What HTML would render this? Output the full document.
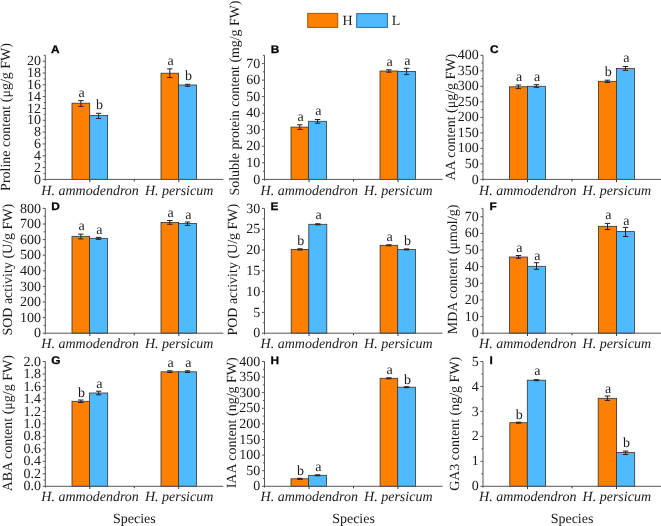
<!DOCTYPE html>
<html><head><meta charset="utf-8"><title>Figure</title>
<style>html,body{margin:0;padding:0;background:#fff;width:661px;height:526px;overflow:hidden}svg{display:block;will-change:transform}text{text-rendering:geometricPrecision}.s{font-family:"Liberation Serif",serif;font-size:14px;fill:#1a1a1a}.i{font-family:"Liberation Serif",serif;font-style:italic;font-size:14px;fill:#1a1a1a}.p{font-family:"Liberation Sans",sans-serif;font-weight:bold;font-size:11px;fill:#000;stroke:#000;stroke-width:0.25px}</style></head><body>
<svg width="661" height="526" viewBox="0 0 661 526">
<rect x="307.7" y="13.4" width="30" height="14" fill="#FF8000" stroke="#a85800" stroke-width="1"/>
<text class="s" transform="translate(342.6 25.3) scale(1 1)">H</text>
<rect x="356.7" y="13.6" width="30.7" height="13.8" fill="#50BAFF" stroke="#2a6c9c" stroke-width="1"/>
<text class="s" transform="translate(391.8 25.3) scale(1 1)">L</text>
<g><rect x="72" y="103.2" width="17.7" height="76.2" fill="#FF8000" stroke="#333" stroke-width="0.8"/><rect x="89.7" y="115.5" width="17.9" height="63.9" fill="#50BAFF" stroke="#333" stroke-width="0.8"/><rect x="161" y="73.2" width="17.6" height="106.2" fill="#FF8000" stroke="#333" stroke-width="0.8"/><rect x="178.6" y="85" width="18" height="94.4" fill="#50BAFF" stroke="#333" stroke-width="0.8"/><path d="M80.85 100.6V106.4M78.15 100.6H83.55M78.15 106.4H83.55" stroke="#222" stroke-width="1" fill="none"/><text class="s" transform="translate(81.65 96.8) scale(1 1)" text-anchor="middle">a</text><path d="M98.65 113.3V118.4M95.95 113.3H101.35M95.95 118.4H101.35" stroke="#222" stroke-width="1" fill="none"/><text class="s" transform="translate(99.45 108.8) scale(1 1)" text-anchor="middle">b</text><path d="M169.8 68.9V77.6M167.1 68.9H172.5M167.1 77.6H172.5" stroke="#222" stroke-width="1" fill="none"/><text class="s" transform="translate(170.6 64.7) scale(1 1)" text-anchor="middle">a</text><path d="M187.6 84.3V86.3M184.9 84.3H190.3M184.9 86.3H190.3" stroke="#222" stroke-width="1" fill="none"/><text class="s" transform="translate(188.4 80.3) scale(1 1)" text-anchor="middle">b</text><path d="M45.3 55.3V180.7M45.3 179.4H223.3" stroke="#555" stroke-width="1" fill="none"/><text class="s" transform="translate(41 183.5) scale(1 1)" text-anchor="end">0</text><text class="s" transform="translate(41 171.68) scale(1 1)" text-anchor="end">2</text><text class="s" transform="translate(41 159.86) scale(1 1)" text-anchor="end">4</text><text class="s" transform="translate(41 148.04) scale(1 1)" text-anchor="end">6</text><text class="s" transform="translate(41 136.22) scale(1 1)" text-anchor="end">8</text><text class="s" transform="translate(41 124.4) scale(1 1)" text-anchor="end">10</text><text class="s" transform="translate(41 112.59) scale(1 1)" text-anchor="end">12</text><text class="s" transform="translate(41 100.77) scale(1 1)" text-anchor="end">14</text><text class="s" transform="translate(41 88.95) scale(1 1)" text-anchor="end">16</text><text class="s" transform="translate(41 77.13) scale(1 1)" text-anchor="end">18</text><text class="s" transform="translate(41 65.31) scale(1 1)" text-anchor="end">20</text><path d="M42.7 179.4H45.3M43.7 173.49H45.3M42.7 167.58H45.3M43.7 161.67H45.3M42.7 155.76H45.3M43.7 149.85H45.3M42.7 143.94H45.3M43.7 138.03H45.3M42.7 132.12H45.3M43.7 126.21H45.3M42.7 120.3H45.3M43.7 114.4H45.3M42.7 108.49H45.3M43.7 102.58H45.3M42.7 96.67H45.3M43.7 90.76H45.3M42.7 84.85H45.3M43.7 78.94H45.3M42.7 73.03H45.3M43.7 67.12H45.3M42.7 61.21H45.3M43.7 55.3H45.3" stroke="#555" stroke-width="1" fill="none"/><path d="M89.8 179.4V182.2M134.3 179.4V181.4M178.8 179.4V182.2" stroke="#3a3a3a" stroke-width="1" fill="none"/><text class="i" transform="translate(90.1 194.5) scale(1 1)" text-anchor="middle">H. ammodendron</text><text class="i" transform="translate(179.1 194.5) scale(1 1)" text-anchor="middle">H. persicum</text><text class="s" transform="translate(10.3 190.9) rotate(-90) scale(1 1)">Proline content (μg/g FW)</text><text class="p" transform="translate(51 52.6) scale(1.08 1)">A</text></g>
<g><rect x="291" y="127.1" width="17.6" height="52.3" fill="#FF8000" stroke="#333" stroke-width="0.8"/><rect x="308.6" y="121.3" width="17.9" height="58.1" fill="#50BAFF" stroke="#333" stroke-width="0.8"/><rect x="380" y="71" width="17.7" height="108.4" fill="#FF8000" stroke="#333" stroke-width="0.8"/><rect x="397.7" y="71.4" width="17.8" height="108" fill="#50BAFF" stroke="#333" stroke-width="0.8"/><path d="M299.8 124.8V129.4M297.1 124.8H302.5M297.1 129.4H302.5" stroke="#222" stroke-width="1" fill="none"/><text class="s" transform="translate(300.6 120.9) scale(1 1)" text-anchor="middle">a</text><path d="M317.55 119.5V123.2M314.85 119.5H320.25M314.85 123.2H320.25" stroke="#222" stroke-width="1" fill="none"/><text class="s" transform="translate(318.35 115.2) scale(1 1)" text-anchor="middle">a</text><path d="M388.85 69.8V72.2M386.15 69.8H391.55M386.15 72.2H391.55" stroke="#222" stroke-width="1" fill="none"/><text class="s" transform="translate(389.65 66) scale(1 1)" text-anchor="middle">a</text><path d="M406.6 68.3V74.6M403.9 68.3H409.3M403.9 74.6H409.3" stroke="#222" stroke-width="1" fill="none"/><text class="s" transform="translate(407.4 64.8) scale(1 1)" text-anchor="middle">a</text><path d="M264.5 55.3V180.7M264.5 179.4H442.5" stroke="#555" stroke-width="1" fill="none"/><text class="s" transform="translate(260.2 183.5) scale(1 1)" text-anchor="end">0</text><text class="s" transform="translate(260.2 166.95) scale(1 1)" text-anchor="end">10</text><text class="s" transform="translate(260.2 150.41) scale(1 1)" text-anchor="end">20</text><text class="s" transform="translate(260.2 133.86) scale(1 1)" text-anchor="end">30</text><text class="s" transform="translate(260.2 117.31) scale(1 1)" text-anchor="end">40</text><text class="s" transform="translate(260.2 100.77) scale(1 1)" text-anchor="end">50</text><text class="s" transform="translate(260.2 84.22) scale(1 1)" text-anchor="end">60</text><text class="s" transform="translate(260.2 67.67) scale(1 1)" text-anchor="end">70</text><path d="M261.9 179.4H264.5M262.9 171.13H264.5M261.9 162.85H264.5M262.9 154.58H264.5M261.9 146.31H264.5M262.9 138.03H264.5M261.9 129.76H264.5M262.9 121.49H264.5M261.9 113.21H264.5M262.9 104.94H264.5M261.9 96.67H264.5M262.9 88.39H264.5M261.9 80.12H264.5M262.9 71.85H264.5M261.9 63.57H264.5M262.9 55.3H264.5" stroke="#555" stroke-width="1" fill="none"/><path d="M309 179.4V182.2M353.5 179.4V181.4M398 179.4V182.2" stroke="#3a3a3a" stroke-width="1" fill="none"/><text class="i" transform="translate(309.3 194.5) scale(1 1)" text-anchor="middle">H. ammodendron</text><text class="i" transform="translate(398.3 194.5) scale(1 1)" text-anchor="middle">H. persicum</text><text class="s" transform="translate(239.2 195.4) rotate(-90) scale(0.99 1)">Soluble protein content (mg/g FW)</text><text class="p" transform="translate(270.8 52.6) scale(1.08 1)">B</text></g>
<g><rect x="509.4" y="86.8" width="18" height="92.6" fill="#FF8000" stroke="#333" stroke-width="0.8"/><rect x="527.4" y="86.3" width="18" height="93.1" fill="#50BAFF" stroke="#333" stroke-width="0.8"/><rect x="598.4" y="81.3" width="18" height="98.1" fill="#FF8000" stroke="#333" stroke-width="0.8"/><rect x="616.4" y="68.5" width="18.1" height="110.9" fill="#50BAFF" stroke="#333" stroke-width="0.8"/><path d="M518.4 85V88.6M515.7 85H521.1M515.7 88.6H521.1" stroke="#222" stroke-width="1" fill="none"/><text class="s" transform="translate(519.2 80.9) scale(1 1)" text-anchor="middle">a</text><path d="M536.4 84.7V87.3M533.7 84.7H539.1M533.7 87.3H539.1" stroke="#222" stroke-width="1" fill="none"/><text class="s" transform="translate(537.2 80.9) scale(1 1)" text-anchor="middle">a</text><path d="M607.4 80.2V82.5M604.7 80.2H610.1M604.7 82.5H610.1" stroke="#222" stroke-width="1" fill="none"/><text class="s" transform="translate(608.2 76) scale(1 1)" text-anchor="middle">b</text><path d="M625.45 66.5V70.3M622.75 66.5H628.15M622.75 70.3H628.15" stroke="#222" stroke-width="1" fill="none"/><text class="s" transform="translate(626.25 62.1) scale(1 1)" text-anchor="middle">a</text><path d="M483 55.3V180.7M483 179.4H661" stroke="#555" stroke-width="1" fill="none"/><text class="s" transform="translate(478.7 183.5) scale(1 1)" text-anchor="end">0</text><text class="s" transform="translate(478.7 167.99) scale(1 1)" text-anchor="end">50</text><text class="s" transform="translate(478.7 152.47) scale(1 1)" text-anchor="end">100</text><text class="s" transform="translate(478.7 136.96) scale(1 1)" text-anchor="end">150</text><text class="s" transform="translate(478.7 121.45) scale(1 1)" text-anchor="end">200</text><text class="s" transform="translate(478.7 105.94) scale(1 1)" text-anchor="end">250</text><text class="s" transform="translate(478.7 90.42) scale(1 1)" text-anchor="end">300</text><text class="s" transform="translate(478.7 74.91) scale(1 1)" text-anchor="end">350</text><text class="s" transform="translate(478.7 59.4) scale(1 1)" text-anchor="end">400</text><path d="M480.4 179.4H483M481.4 171.64H483M480.4 163.89H483M481.4 156.13H483M480.4 148.38H483M481.4 140.62H483M480.4 132.86H483M481.4 125.11H483M480.4 117.35H483M481.4 109.59H483M480.4 101.84H483M481.4 94.08H483M480.4 86.33H483M481.4 78.57H483M480.4 70.81H483M481.4 63.06H483M480.4 55.3H483" stroke="#555" stroke-width="1" fill="none"/><path d="M527.5 179.4V182.2M572 179.4V181.4M616.5 179.4V182.2" stroke="#3a3a3a" stroke-width="1" fill="none"/><text class="i" transform="translate(527.8 194.5) scale(1 1)" text-anchor="middle">H. ammodendron</text><text class="i" transform="translate(616.8 194.5) scale(1 1)" text-anchor="middle">H. persicum</text><text class="s" transform="translate(454.5 180.6) rotate(-90) scale(1 1)">AA content (μg/g FW)</text><text class="p" transform="translate(489.9 52.6) scale(1.08 1)">C</text></g>
<g><rect x="72" y="236.3" width="17.6" height="96.9" fill="#FF8000" stroke="#333" stroke-width="0.8"/><rect x="89.6" y="238.3" width="17.9" height="94.9" fill="#50BAFF" stroke="#333" stroke-width="0.8"/><rect x="161" y="222.4" width="17.6" height="110.8" fill="#FF8000" stroke="#333" stroke-width="0.8"/><rect x="178.6" y="223.5" width="17.9" height="109.7" fill="#50BAFF" stroke="#333" stroke-width="0.8"/><path d="M80.8 234.1V238.9M78.1 234.1H83.5M78.1 238.9H83.5" stroke="#222" stroke-width="1" fill="none"/><text class="s" transform="translate(81.6 230.4) scale(1 1)" text-anchor="middle">a</text><path d="M98.55 237.4V239.3M95.85 237.4H101.25M95.85 239.3H101.25" stroke="#222" stroke-width="1" fill="none"/><text class="s" transform="translate(99.35 233.6) scale(1 1)" text-anchor="middle">a</text><path d="M169.8 220.5V224.3M167.1 220.5H172.5M167.1 224.3H172.5" stroke="#222" stroke-width="1" fill="none"/><text class="s" transform="translate(170.6 216.7) scale(1 1)" text-anchor="middle">a</text><path d="M187.55 222V225.4M184.85 222H190.25M184.85 225.4H190.25" stroke="#222" stroke-width="1" fill="none"/><text class="s" transform="translate(188.35 218.6) scale(1 1)" text-anchor="middle">a</text><path d="M45.3 208.4V334.5M45.3 333.2H223.3" stroke="#555" stroke-width="1" fill="none"/><text class="s" transform="translate(41 337.3) scale(1 1)" text-anchor="end">0</text><text class="s" transform="translate(41 321.7) scale(1 1)" text-anchor="end">100</text><text class="s" transform="translate(41 306.1) scale(1 1)" text-anchor="end">200</text><text class="s" transform="translate(41 290.5) scale(1 1)" text-anchor="end">300</text><text class="s" transform="translate(41 274.9) scale(1 1)" text-anchor="end">400</text><text class="s" transform="translate(41 259.3) scale(1 1)" text-anchor="end">500</text><text class="s" transform="translate(41 243.7) scale(1 1)" text-anchor="end">600</text><text class="s" transform="translate(41 228.1) scale(1 1)" text-anchor="end">700</text><text class="s" transform="translate(41 212.5) scale(1 1)" text-anchor="end">800</text><path d="M42.7 333.2H45.3M43.7 325.4H45.3M42.7 317.6H45.3M43.7 309.8H45.3M42.7 302H45.3M43.7 294.2H45.3M42.7 286.4H45.3M43.7 278.6H45.3M42.7 270.8H45.3M43.7 263H45.3M42.7 255.2H45.3M43.7 247.4H45.3M42.7 239.6H45.3M43.7 231.8H45.3M42.7 224H45.3M43.7 216.2H45.3M42.7 208.4H45.3" stroke="#555" stroke-width="1" fill="none"/><path d="M89.8 333.2V336M134.3 333.2V335.2M178.8 333.2V336" stroke="#3a3a3a" stroke-width="1" fill="none"/><text class="i" transform="translate(90.1 348) scale(1 1)" text-anchor="middle">H. ammodendron</text><text class="i" transform="translate(179.1 348) scale(1 1)" text-anchor="middle">H. persicum</text><text class="s" transform="translate(12 335.6) rotate(-90) scale(1 1)">SOD activity (U/g FW)</text><text class="p" transform="translate(51.3 209.8) scale(1.08 1)">D</text></g>
<g><rect x="291.2" y="249.4" width="17.6" height="83.8" fill="#FF8000" stroke="#333" stroke-width="0.8"/><rect x="308.8" y="224.3" width="18" height="108.9" fill="#50BAFF" stroke="#333" stroke-width="0.8"/><rect x="380.1" y="245.3" width="17.6" height="87.9" fill="#FF8000" stroke="#333" stroke-width="0.8"/><rect x="397.7" y="249.4" width="17.8" height="83.8" fill="#50BAFF" stroke="#333" stroke-width="0.8"/><path d="M300 248.8V250M297.3 248.8H302.7M297.3 250H302.7" stroke="#222" stroke-width="1" fill="none"/><text class="s" transform="translate(300.8 244.6) scale(1 1)" text-anchor="middle">b</text><path d="M317.8 223.8V224.8M315.1 223.8H320.5M315.1 224.8H320.5" stroke="#222" stroke-width="1" fill="none"/><text class="s" transform="translate(318.6 218.7) scale(1 1)" text-anchor="middle">a</text><path d="M388.9 244.8V245.8M386.2 244.8H391.6M386.2 245.8H391.6" stroke="#222" stroke-width="1" fill="none"/><text class="s" transform="translate(389.7 240.9) scale(1 1)" text-anchor="middle">a</text><path d="M406.6 248.9V249.9M403.9 248.9H409.3M403.9 249.9H409.3" stroke="#222" stroke-width="1" fill="none"/><text class="s" transform="translate(407.4 245.4) scale(1 1)" text-anchor="middle">b</text><path d="M264.5 208.4V334.5M264.5 333.2H442.5" stroke="#555" stroke-width="1" fill="none"/><text class="s" transform="translate(260.2 337.3) scale(1 1)" text-anchor="end">0</text><text class="s" transform="translate(260.2 316.5) scale(1 1)" text-anchor="end">5</text><text class="s" transform="translate(260.2 295.7) scale(1 1)" text-anchor="end">10</text><text class="s" transform="translate(260.2 274.9) scale(1 1)" text-anchor="end">15</text><text class="s" transform="translate(260.2 254.1) scale(1 1)" text-anchor="end">20</text><text class="s" transform="translate(260.2 233.3) scale(1 1)" text-anchor="end">25</text><text class="s" transform="translate(260.2 212.5) scale(1 1)" text-anchor="end">30</text><path d="M261.9 333.2H264.5M262.9 322.8H264.5M261.9 312.4H264.5M262.9 302H264.5M261.9 291.6H264.5M262.9 281.2H264.5M261.9 270.8H264.5M262.9 260.4H264.5M261.9 250H264.5M262.9 239.6H264.5M261.9 229.2H264.5M262.9 218.8H264.5M261.9 208.4H264.5" stroke="#555" stroke-width="1" fill="none"/><path d="M309 333.2V336M353.5 333.2V335.2M398 333.2V336" stroke="#3a3a3a" stroke-width="1" fill="none"/><text class="i" transform="translate(309.3 348) scale(1 1)" text-anchor="middle">H. ammodendron</text><text class="i" transform="translate(398.3 348) scale(1 1)" text-anchor="middle">H. persicum</text><text class="s" transform="translate(237.3 335.6) rotate(-90) scale(1 1)">POD activity (U/g FW)</text><text class="p" transform="translate(270.6 209.8) scale(1.08 1)">E</text></g>
<g><rect x="509.4" y="257" width="18.2" height="76.2" fill="#FF8000" stroke="#333" stroke-width="0.8"/><rect x="527.6" y="266.3" width="17.8" height="66.9" fill="#50BAFF" stroke="#333" stroke-width="0.8"/><rect x="598.4" y="226.3" width="18.2" height="106.9" fill="#FF8000" stroke="#333" stroke-width="0.8"/><rect x="616.6" y="231.6" width="17.9" height="101.6" fill="#50BAFF" stroke="#333" stroke-width="0.8"/><path d="M518.5 255.5V258.3M515.8 255.5H521.2M515.8 258.3H521.2" stroke="#222" stroke-width="1" fill="none"/><text class="s" transform="translate(519.3 251.7) scale(1 1)" text-anchor="middle">a</text><path d="M536.5 262.7V269.3M533.8 262.7H539.2M533.8 269.3H539.2" stroke="#222" stroke-width="1" fill="none"/><text class="s" transform="translate(537.3 260.4) scale(1 1)" text-anchor="middle">a</text><path d="M607.5 223.4V229.5M604.8 223.4H610.2M604.8 229.5H610.2" stroke="#222" stroke-width="1" fill="none"/><text class="s" transform="translate(608.3 218.9) scale(1 1)" text-anchor="middle">a</text><path d="M625.55 227.4V236.5M622.85 227.4H628.25M622.85 236.5H628.25" stroke="#222" stroke-width="1" fill="none"/><text class="s" transform="translate(626.35 224.5) scale(1 1)" text-anchor="middle">a</text><path d="M483 208.4V334.5M483 333.2H661" stroke="#555" stroke-width="1" fill="none"/><text class="s" transform="translate(478.7 337.3) scale(1 1)" text-anchor="end">0</text><text class="s" transform="translate(478.7 320.66) scale(1 1)" text-anchor="end">10</text><text class="s" transform="translate(478.7 304.02) scale(1 1)" text-anchor="end">20</text><text class="s" transform="translate(478.7 287.38) scale(1 1)" text-anchor="end">30</text><text class="s" transform="translate(478.7 270.74) scale(1 1)" text-anchor="end">40</text><text class="s" transform="translate(478.7 254.1) scale(1 1)" text-anchor="end">50</text><text class="s" transform="translate(478.7 237.46) scale(1 1)" text-anchor="end">60</text><text class="s" transform="translate(478.7 220.82) scale(1 1)" text-anchor="end">70</text><path d="M480.4 333.2H483M481.4 324.88H483M480.4 316.56H483M481.4 308.24H483M480.4 299.92H483M481.4 291.6H483M480.4 283.28H483M481.4 274.96H483M480.4 266.64H483M481.4 258.32H483M480.4 250H483M481.4 241.68H483M480.4 233.36H483M481.4 225.04H483M480.4 216.72H483M481.4 208.4H483" stroke="#555" stroke-width="1" fill="none"/><path d="M527.5 333.2V336M572 333.2V335.2M616.5 333.2V336" stroke="#3a3a3a" stroke-width="1" fill="none"/><text class="i" transform="translate(527.8 348) scale(1 1)" text-anchor="middle">H. ammodendron</text><text class="i" transform="translate(616.8 348) scale(1 1)" text-anchor="middle">H. persicum</text><text class="s" transform="translate(457 334.3) rotate(-90) scale(1 1)">MDA content (μmol/g)</text><text class="p" transform="translate(489.6 209.8) scale(1.08 1)">F</text></g>
<g><rect x="72" y="401.3" width="17.6" height="85" fill="#FF8000" stroke="#333" stroke-width="0.8"/><rect x="89.6" y="393" width="18.1" height="93.3" fill="#50BAFF" stroke="#333" stroke-width="0.8"/><rect x="161" y="371.8" width="17.6" height="114.5" fill="#FF8000" stroke="#333" stroke-width="0.8"/><rect x="178.6" y="371.8" width="17.9" height="114.5" fill="#50BAFF" stroke="#333" stroke-width="0.8"/><path d="M80.8 400V402.5M78.1 400H83.5M78.1 402.5H83.5" stroke="#222" stroke-width="1" fill="none"/><text class="s" transform="translate(81.6 396.9) scale(1 1)" text-anchor="middle">b</text><path d="M98.65 391.2V394.8M95.95 391.2H101.35M95.95 394.8H101.35" stroke="#222" stroke-width="1" fill="none"/><text class="s" transform="translate(99.45 387.6) scale(1 1)" text-anchor="middle">a</text><path d="M169.8 370.8V372.5M167.1 370.8H172.5M167.1 372.5H172.5" stroke="#222" stroke-width="1" fill="none"/><text class="s" transform="translate(170.6 366.7) scale(1 1)" text-anchor="middle">a</text><path d="M187.55 370.8V372.5M184.85 370.8H190.25M184.85 372.5H190.25" stroke="#222" stroke-width="1" fill="none"/><text class="s" transform="translate(188.35 366.7) scale(1 1)" text-anchor="middle">a</text><path d="M45.3 361.5V487.6M45.3 486.3H223.3" stroke="#555" stroke-width="1" fill="none"/><text class="s" transform="translate(41 490.4) scale(1 1)" text-anchor="end">0.0</text><text class="s" transform="translate(41 477.92) scale(1 1)" text-anchor="end">0.2</text><text class="s" transform="translate(41 465.44) scale(1 1)" text-anchor="end">0.4</text><text class="s" transform="translate(41 452.96) scale(1 1)" text-anchor="end">0.6</text><text class="s" transform="translate(41 440.48) scale(1 1)" text-anchor="end">0.8</text><text class="s" transform="translate(41 428) scale(1 1)" text-anchor="end">1.0</text><text class="s" transform="translate(41 415.52) scale(1 1)" text-anchor="end">1.2</text><text class="s" transform="translate(41 403.04) scale(1 1)" text-anchor="end">1.4</text><text class="s" transform="translate(41 390.56) scale(1 1)" text-anchor="end">1.6</text><text class="s" transform="translate(41 378.08) scale(1 1)" text-anchor="end">1.8</text><text class="s" transform="translate(41 365.6) scale(1 1)" text-anchor="end">2.0</text><path d="M42.7 486.3H45.3M43.7 480.06H45.3M42.7 473.82H45.3M43.7 467.58H45.3M42.7 461.34H45.3M43.7 455.1H45.3M42.7 448.86H45.3M43.7 442.62H45.3M42.7 436.38H45.3M43.7 430.14H45.3M42.7 423.9H45.3M43.7 417.66H45.3M42.7 411.42H45.3M43.7 405.18H45.3M42.7 398.94H45.3M43.7 392.7H45.3M42.7 386.46H45.3M43.7 380.22H45.3M42.7 373.98H45.3M43.7 367.74H45.3M42.7 361.5H45.3" stroke="#555" stroke-width="1" fill="none"/><path d="M89.8 486.3V489.1M134.3 486.3V488.3M178.8 486.3V489.1" stroke="#3a3a3a" stroke-width="1" fill="none"/><text class="i" transform="translate(90.1 501.3) scale(1 1)" text-anchor="middle">H. ammodendron</text><text class="i" transform="translate(179.1 501.3) scale(1 1)" text-anchor="middle">H. persicum</text><text class="s" transform="translate(12 491.3) rotate(-90) scale(1 1)">ABA content (μg/g FW)</text><text class="p" transform="translate(51.3 363.9) scale(1.08 1)">G</text><text class="s" transform="translate(134.3 523.4) scale(1 1)" text-anchor="middle">Species</text></g>
<g><rect x="291" y="478.8" width="17.6" height="7.5" fill="#FF8000" stroke="#333" stroke-width="0.8"/><rect x="308.6" y="475.3" width="17.9" height="11" fill="#50BAFF" stroke="#333" stroke-width="0.8"/><rect x="380.1" y="378.3" width="17.6" height="108" fill="#FF8000" stroke="#333" stroke-width="0.8"/><rect x="397.7" y="387.2" width="17.8" height="99.1" fill="#50BAFF" stroke="#333" stroke-width="0.8"/><path d="M299.8 478.3V479.3M297.1 478.3H302.5M297.1 479.3H302.5" stroke="#222" stroke-width="1" fill="none"/><text class="s" transform="translate(300.6 475.1) scale(1 1)" text-anchor="middle">b</text><path d="M317.55 474.8V475.8M314.85 474.8H320.25M314.85 475.8H320.25" stroke="#222" stroke-width="1" fill="none"/><text class="s" transform="translate(318.35 470.9) scale(1 1)" text-anchor="middle">a</text><path d="M388.9 377.8V378.8M386.2 377.8H391.6M386.2 378.8H391.6" stroke="#222" stroke-width="1" fill="none"/><text class="s" transform="translate(389.7 374) scale(1 1)" text-anchor="middle">a</text><path d="M406.6 386.7V387.7M403.9 386.7H409.3M403.9 387.7H409.3" stroke="#222" stroke-width="1" fill="none"/><text class="s" transform="translate(407.4 383.7) scale(1 1)" text-anchor="middle">b</text><path d="M264.5 361.5V487.6M264.5 486.3H442.5" stroke="#555" stroke-width="1" fill="none"/><text class="s" transform="translate(260.2 490.4) scale(1 1)" text-anchor="end">0</text><text class="s" transform="translate(260.2 474.8) scale(1 1)" text-anchor="end">50</text><text class="s" transform="translate(260.2 459.2) scale(1 1)" text-anchor="end">100</text><text class="s" transform="translate(260.2 443.6) scale(1 1)" text-anchor="end">150</text><text class="s" transform="translate(260.2 428) scale(1 1)" text-anchor="end">200</text><text class="s" transform="translate(260.2 412.4) scale(1 1)" text-anchor="end">250</text><text class="s" transform="translate(260.2 396.8) scale(1 1)" text-anchor="end">300</text><text class="s" transform="translate(260.2 381.2) scale(1 1)" text-anchor="end">350</text><text class="s" transform="translate(260.2 365.6) scale(1 1)" text-anchor="end">400</text><path d="M261.9 486.3H264.5M262.9 478.5H264.5M261.9 470.7H264.5M262.9 462.9H264.5M261.9 455.1H264.5M262.9 447.3H264.5M261.9 439.5H264.5M262.9 431.7H264.5M261.9 423.9H264.5M262.9 416.1H264.5M261.9 408.3H264.5M262.9 400.5H264.5M261.9 392.7H264.5M262.9 384.9H264.5M261.9 377.1H264.5M262.9 369.3H264.5M261.9 361.5H264.5" stroke="#555" stroke-width="1" fill="none"/><path d="M309 486.3V489.1M353.5 486.3V488.3M398 486.3V489.1" stroke="#3a3a3a" stroke-width="1" fill="none"/><text class="i" transform="translate(309.3 501.3) scale(1 1)" text-anchor="middle">H. ammodendron</text><text class="i" transform="translate(398.3 501.3) scale(1 1)" text-anchor="middle">H. persicum</text><text class="s" transform="translate(235.5 357.3) rotate(-90) scale(1 1)" text-anchor="end">IAA content (ng/g FW)</text><text class="p" transform="translate(270.6 363.9) scale(1.08 1)">H</text><text class="s" transform="translate(353.5 523.4) scale(1 1)" text-anchor="middle">Species</text></g>
<g><rect x="509.8" y="422.7" width="17.5" height="63.6" fill="#FF8000" stroke="#333" stroke-width="0.8"/><rect x="527.3" y="380.2" width="18.3" height="106.1" fill="#50BAFF" stroke="#333" stroke-width="0.8"/><rect x="598.2" y="398.3" width="18.4" height="88" fill="#FF8000" stroke="#333" stroke-width="0.8"/><rect x="616.6" y="452.6" width="18.1" height="33.7" fill="#50BAFF" stroke="#333" stroke-width="0.8"/><path d="M518.55 422.2V423.2M515.85 422.2H521.25M515.85 423.2H521.25" stroke="#222" stroke-width="1" fill="none"/><text class="s" transform="translate(519.35 419.3) scale(1 1)" text-anchor="middle">b</text><path d="M536.45 379.7V380.7M533.75 379.7H539.15M533.75 380.7H539.15" stroke="#222" stroke-width="1" fill="none"/><text class="s" transform="translate(537.25 375.2) scale(1 1)" text-anchor="middle">a</text><path d="M607.4 396V400.4M604.7 396H610.1M604.7 400.4H610.1" stroke="#222" stroke-width="1" fill="none"/><text class="s" transform="translate(608.2 392.6) scale(1 1)" text-anchor="middle">a</text><path d="M625.65 451.1V454.5M622.95 451.1H628.35M622.95 454.5H628.35" stroke="#222" stroke-width="1" fill="none"/><text class="s" transform="translate(626.45 447.2) scale(1 1)" text-anchor="middle">b</text><path d="M483 361.5V487.6M483 486.3H661" stroke="#555" stroke-width="1" fill="none"/><text class="s" transform="translate(478.7 490.4) scale(1 1)" text-anchor="end">0</text><text class="s" transform="translate(478.7 465.44) scale(1 1)" text-anchor="end">1</text><text class="s" transform="translate(478.7 440.48) scale(1 1)" text-anchor="end">2</text><text class="s" transform="translate(478.7 415.52) scale(1 1)" text-anchor="end">3</text><text class="s" transform="translate(478.7 390.56) scale(1 1)" text-anchor="end">4</text><text class="s" transform="translate(478.7 365.6) scale(1 1)" text-anchor="end">5</text><path d="M480.4 486.3H483M481.4 473.82H483M480.4 461.34H483M481.4 448.86H483M480.4 436.38H483M481.4 423.9H483M480.4 411.42H483M481.4 398.94H483M480.4 386.46H483M481.4 373.98H483M480.4 361.5H483" stroke="#555" stroke-width="1" fill="none"/><path d="M527.5 486.3V489.1M572 486.3V488.3M616.5 486.3V489.1" stroke="#3a3a3a" stroke-width="1" fill="none"/><text class="i" transform="translate(527.8 501.3) scale(1 1)" text-anchor="middle">H. ammodendron</text><text class="i" transform="translate(616.8 501.3) scale(1 1)" text-anchor="middle">H. persicum</text><text class="s" transform="translate(459.1 356.7) rotate(-90) scale(1 1)" text-anchor="end">GA3 content (ng/g FW)</text><text class="p" transform="translate(489.6 363.9) scale(1.08 1)">I</text><text class="s" transform="translate(572 523.4) scale(1 1)" text-anchor="middle">Species</text></g>
</svg></body></html>
